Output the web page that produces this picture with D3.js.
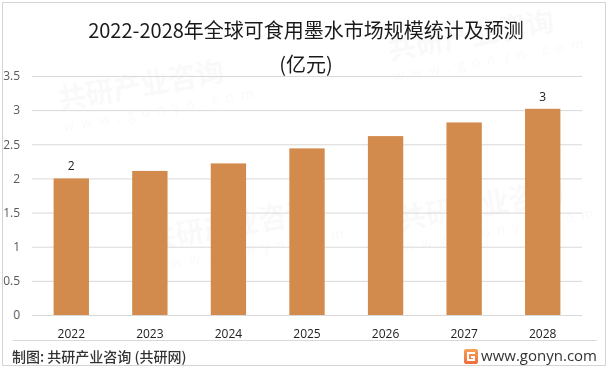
<!DOCTYPE html>
<html>
<head>
    <meta charset="utf-8">
    <title>2022-2028年全球可食用墨水市场规模统计及预测</title>
    <script src="https://cdn.jsdelivr.net/npm/d3@7"></script>
    <style>
        body { margin: 0; background: #fff; }
        svg { display: block; font-family: "Noto Sans CJK SC", "Noto Sans", sans-serif; }
    </style>
</head>
<body>
<script>
    // chart data
    const years = ['2022', '2023', '2024', '2025', '2026', '2027', '2028'];
    const values = [2.0, 2.11, 2.22, 2.44, 2.62, 2.82, 3.02];
    const barLabels = ['2', '', '', '', '', '', '3'];
    const yTicks = [0, 0.5, 1, 1.5, 2, 2.5, 3, 3.5];
    const titleLines = ['2022-2028年全球可食用墨水市场规模统计及预测', '(亿元)'];
    const sourceText = '制图: 共研产业咨询 (共研网)';
    const siteText = 'www.gonyn.com';

    const width = 612;
    const height = 370;
    const plot = { left: 32, right: 582, top: 76, bottom: 315 };

    const svg = d3.select('body')
        .append('svg')
        .attr('width', width)
        .attr('height', height);

    // outer frame
    svg.append('rect')
        .attr('x', 2.5).attr('y', 2.5)
        .attr('width', 603).attr('height', 363)
        .attr('fill', '#fff')
        .attr('stroke', '#d4d4d4');

    // faint watermarks (kept inside the frame)
    const marks = [[60, 110], [390, 60], [150, 250], [400, 230]];
    const wm = svg.append('g').attr('fill', '#000').attr('opacity', 0.025);
    marks.forEach(m => {
        const g = wm.append('g').attr('transform', `translate(${m[0]},${m[1]}) rotate(-10)`);
        g.append('text').attr('font-size', 28).attr('font-weight', 700).text('共研产业咨询');
        g.append('text').attr('y', 22).attr('font-size', 14).attr('letter-spacing', 7).text('www.gonyn.com');
    });

    const x = d3.scaleBand()
        .domain(years)
        .range([plot.left, plot.right])
        .paddingInner(0.55)
        .paddingOuter(0.275);

    const y = d3.scaleLinear()
        .domain([0, 3.5])
        .range([plot.bottom, plot.top]);

    // y axis with gridlines
    const yAxis = svg.append('g')
        .attr('transform', `translate(${plot.left},0)`)
        .call(d3.axisLeft(y)
            .tickValues(yTicks)
            .tickFormat(d3.format(''))
            .tickSize(-(plot.right - plot.left))
            .tickPadding(12));
    yAxis.select('.domain').remove();
    yAxis.selectAll('line').attr('stroke', '#d9d9d9');
    yAxis.selectAll('text')
        .attr('fill', '#595959')
        .attr('font-size', 12)
        .attr('font-family', '"Open Sans", "Noto Sans", sans-serif');

    // bars
    svg.selectAll('.bar')
        .data(values)
        .join('rect')
        .attr('class', 'bar')
        .attr('x', (d, i) => x(years[i]))
        .attr('y', d => y(d))
        .attr('width', x.bandwidth())
        .attr('height', d => y(0) - y(d))
        .attr('fill', '#d38b4d');

    // value labels
    svg.selectAll('.val')
        .data(values)
        .join('text')
        .attr('class', 'val')
        .attr('x', (d, i) => x(years[i]) + x.bandwidth() / 2)
        .attr('y', d => y(d) - 8)
        .attr('text-anchor', 'middle')
        .attr('font-size', 12)
        .attr('fill', '#222')
        .attr('font-family', '"Open Sans", "Noto Sans", sans-serif')
        .text((d, i) => barLabels[i]);

    // x axis
    const xAxis = svg.append('g')
        .attr('transform', `translate(0,${plot.bottom})`)
        .call(d3.axisBottom(x).tickSize(0).tickPadding(14));
    xAxis.select('.domain').remove();
    xAxis.selectAll('text')
        .attr('fill', '#222')
        .attr('font-size', 12)
        .attr('font-family', '"Open Sans", "Noto Sans", sans-serif');

    // title
    svg.selectAll('.title')
        .data(titleLines)
        .join('text')
        .attr('class', 'title')
        .attr('x', 306)
        .attr('y', (d, i) => 38 + i * 34)
        .attr('text-anchor', 'middle')
        .attr('font-size', 20)
        .attr('fill', '#1a1a1a')
        .text(d => d);

    // footer
    svg.append('line')
        .attr('x1', 13).attr('x2', 597)
        .attr('y1', 340.5).attr('y2', 340.5)
        .attr('stroke', '#d9d9d9');

    svg.append('text')
        .attr('x', 12)
        .attr('y', 362)
        .attr('font-size', 14)
        .attr('font-weight', 500)
        .attr('fill', '#333')
        .text(sourceText);

    const grad = svg.append('defs').append('linearGradient')
        .attr('id', 'logoGrad')
        .attr('x1', 0).attr('y1', 0).attr('x2', 0).attr('y2', 1);
    grad.append('stop').attr('offset', '0%').attr('stop-color', '#f7a25a');
    grad.append('stop').attr('offset', '100%').attr('stop-color', '#f06b3a');

    const logo = svg.append('g').attr('transform', 'translate(464,349)');
    logo.append('rect')
        .attr('width', 14).attr('height', 15).attr('rx', 2)
        .attr('fill', 'url(#logoGrad)');
    logo.append('path')
        .attr('d', 'M11 4 H4 V11 H10 V8 H7')
        .attr('fill', 'none')
        .attr('stroke', '#fff')
        .attr('stroke-width', 2);

    svg.append('text')
        .attr('x', 597)
        .attr('y', 361)
        .attr('text-anchor', 'end')
        .attr('font-size', 15)
        .attr('fill', '#333')
        .attr('font-family', '"Open Sans", "Noto Sans", sans-serif')
        .text(siteText);
</script>
</body>
</html>
